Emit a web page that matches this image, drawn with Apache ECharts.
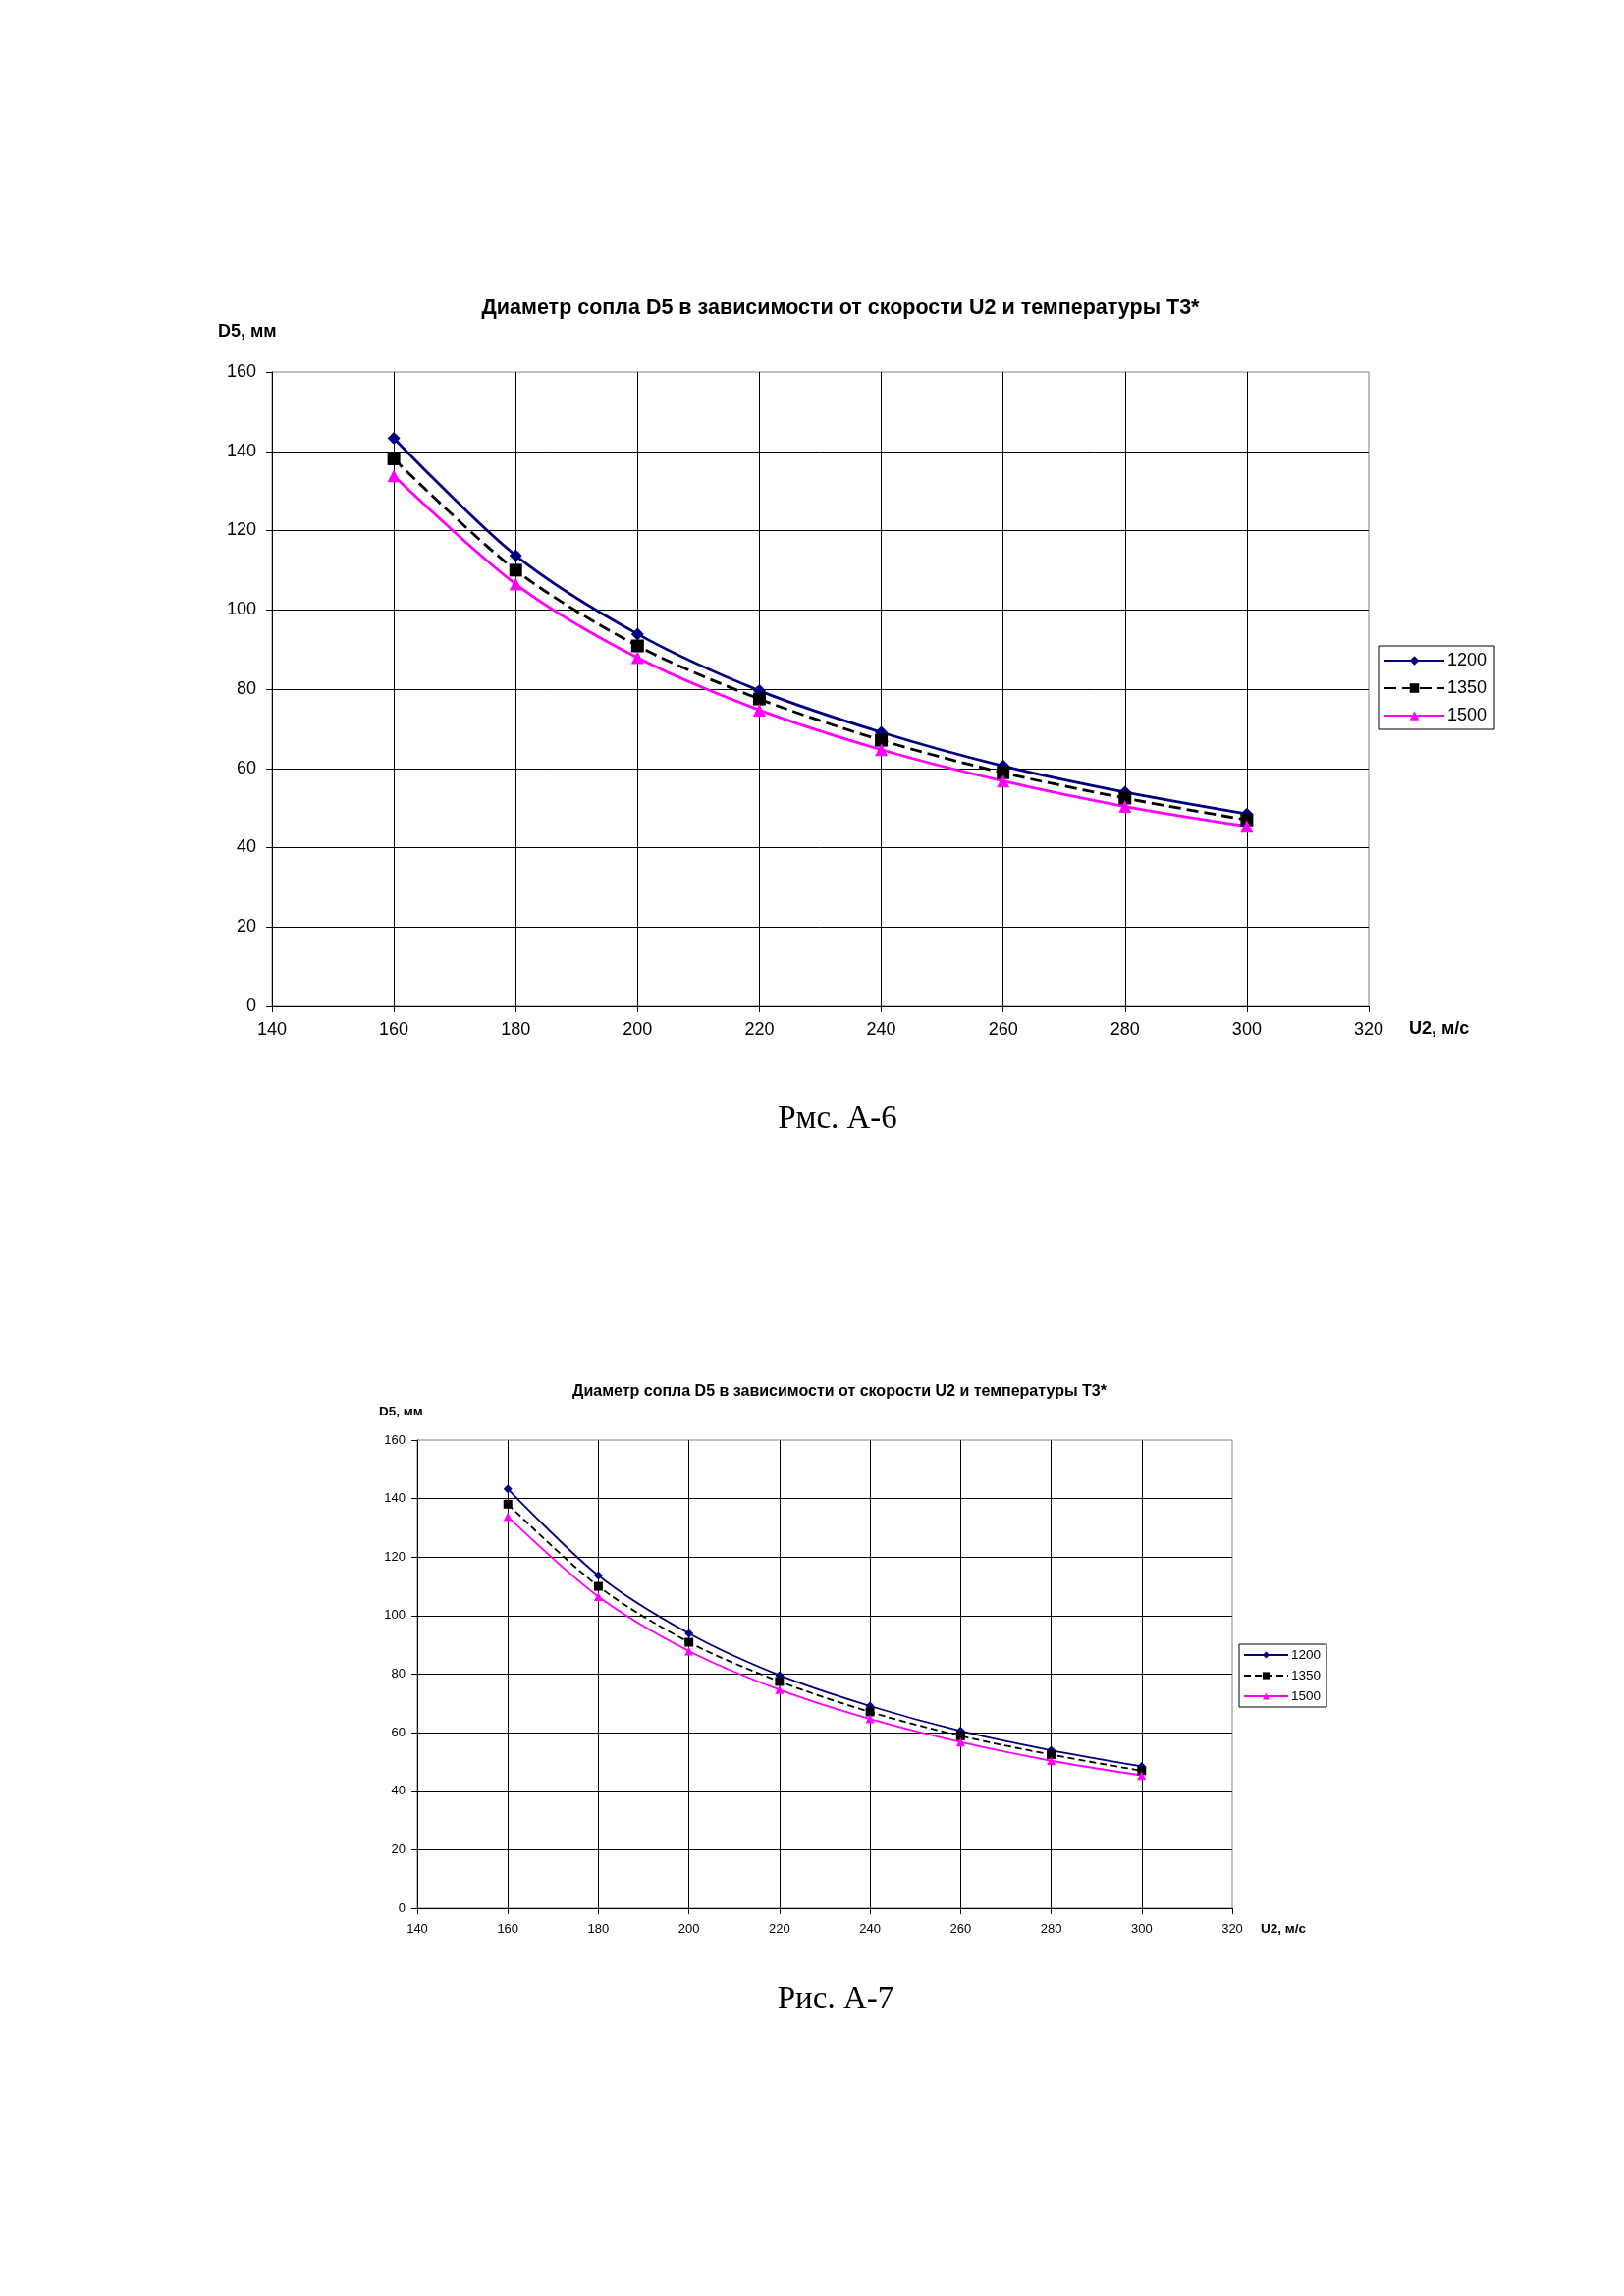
<!DOCTYPE html>
<html>
<head>
<meta charset="utf-8">
<script src="https://cdn.jsdelivr.net/npm/echarts@6/dist/echarts.min.js"></script>
<style>
  html, body { margin: 0; padding: 0; background: #fff; }
  #page { position: relative; width: 1654px; height: 2339px; }
  #chart-a6 { position: absolute; left: 0; top: 0; width: 1654px; height: 1200px; }
  #chart-a7 { position: absolute; left: 0; top: 1200px; width: 1654px; height: 1139px; }
</style>
</head>
<body>
<div id="page">
  <div id="chart-a6"></div>
  <div id="chart-a7"></div>
</div>
<script>
// U2, m/s
const speeds = [160, 180, 200, 220, 240, 260, 280, 300];
// D5, mm for T3* = 1200, 1350, 1500
const d5_1200 = [143.3, 113.7, 93.9, 79.6, 69.1, 60.6, 54.0, 48.5];
const d5_1350 = [138.1, 110.0, 90.9, 77.5, 67.1, 58.9, 52.5, 47.0];
const d5_1500 = [133.8, 106.5, 87.9, 74.7, 64.7, 56.8, 50.4, 45.4];
const seriesNames = ['1200', '1350', '1500'];

const titleText = 'Диаметр сопла D5 в зависимости от скорости U2 и температуры T3*';
const FONT = 'Arial, "Liberation Sans", sans-serif';

function pairs(ys) {
  return speeds.map((x, i) => [x, ys[i]]);
}

function buildOption(s) {
  const lines = [
    { name: seriesNames[0], data: d5_1200, color: '#000080', symbol: 'diamond', size: s.diamond, type: 'solid' },
    { name: seriesNames[1], data: d5_1350, color: '#000000', symbol: 'rect', size: s.square, type: s.dash },
    { name: seriesNames[2], data: d5_1500, color: '#ff00ff', symbol: 'triangle', size: s.triangle, type: 'solid' }
  ];
  return {
    animation: false,
    backgroundColor: '#fff',
    title: {
      text: titleText,
      left: s.titleX,
      top: s.titleY,
      textAlign: 'center',
      padding: 0,
      textStyle: { fontFamily: FONT, fontWeight: 'bold', fontSize: s.titleSize, color: '#000' }
    },
    legend: {
      orient: 'vertical',
      left: s.legLeft,
      top: s.legTop,
      padding: s.legPad,
      itemWidth: s.legItemW,
      itemHeight: s.legItemH,
      itemGap: s.legGap,
      borderColor: '#000',
      borderWidth: 1,
      backgroundColor: '#fff',
      textStyle: { fontFamily: FONT, fontSize: s.legFont, color: '#000', padding: [0, 0, 0, -2] },
      data: seriesNames
    },
    grid: {
      left: s.gridLeft, top: s.gridTop, width: s.gridW, height: s.gridH,
      show: true, borderColor: '#808080', borderWidth: 1, backgroundColor: '#fff'
    },
    xAxis: {
      type: 'value', min: 140, max: 320, interval: 20,
      axisLine: { onZero: false, lineStyle: { color: '#000', width: 1 } },
      axisTick: { show: true, length: 6, lineStyle: { color: '#000' } },
      axisLabel: { fontFamily: FONT, fontSize: s.labelSize, color: '#000', margin: s.xMargin },
      splitLine: { show: true, showMaxLine: false, lineStyle: { color: '#000', width: 1 } }
    },
    yAxis: {
      type: 'value', min: 0, max: 160, interval: 20,
      axisLine: { show: true, lineStyle: { color: '#000', width: 1 } },
      axisTick: { show: true, length: 6, lineStyle: { color: '#000' } },
      axisLabel: { fontFamily: FONT, fontSize: s.labelSize, color: '#000', margin: s.yMargin },
      splitLine: { show: true, showMaxLine: false, lineStyle: { color: '#000', width: 1 } }
    },
    graphic: [
      {
        type: 'text', left: s.yNameX, top: s.yNameY,
        style: { text: 'D5, мм', fontFamily: FONT, fontWeight: 'bold', fontSize: s.nameSize, fill: '#000' }
      },
      {
        type: 'text', left: s.xNameX, top: s.xNameY,
        style: { text: 'U2, м/с', fontFamily: FONT, fontWeight: 'bold', fontSize: s.nameSize, fill: '#000' }
      },
      {
        type: 'text', x: s.capX, y: s.capY,
        style: {
          text: s.caption, fontFamily: '"Times New Roman", "Liberation Serif", serif', fontSize: 33,
          fill: '#000', align: 'center', verticalAlign: 'middle'
        }
      }
    ],
    series: lines.map(l => ({
      name: l.name,
      type: 'line',
      data: pairs(l.data),
      smooth: 0.3,
      symbol: l.symbol,
      symbolSize: l.size,
      showAllSymbol: true,
      lineStyle: { color: l.color, width: s.lineW, type: l.type },
      itemStyle: { color: l.color, borderWidth: 0 },
      emphasis: { disabled: true }
    }))
  };
}

const chartA6 = echarts.init(document.getElementById('chart-a6'));
chartA6.setOption(buildOption({
  titleX: 856, titleY: 303, titleSize: 21.5,
  gridLeft: 277, gridTop: 379, gridW: 1117, gridH: 646,
  labelSize: 18, xMargin: 15, yMargin: 16,
  nameSize: 18, yNameX: 222, yNameY: 329, xNameX: 1435, xNameY: 1039,
  legLeft: 1404, legTop: 658, legPad: [6, 8, 5, 5], legItemW: 61, legItemH: 12, legGap: 10, legFont: 18,
  lineW: 2.8, dash: [12, 6], diamond: 13, square: 13, triangle: 13,
  caption: 'Рмс. А-6', capX: 853, capY: 1140
}));

const chartA7 = echarts.init(document.getElementById('chart-a7'));
chartA7.setOption(buildOption({
  titleX: 855, titleY: 210, titleSize: 16,
  gridLeft: 425, gridTop: 267, gridW: 830, gridH: 477,
  labelSize: 13, xMargin: 15, yMargin: 12,
  nameSize: 13.5, yNameX: 386, yNameY: 231, xNameX: 1284, xNameY: 758,
  legLeft: 1262, legTop: 475, legPad: [4, 6, 4, 4], legItemW: 45, legItemH: 9, legGap: 7, legFont: 13.5,
  lineW: 1.8, dash: [7, 4], diamond: 9, square: 9, triangle: 9,
  caption: 'Рис. А-7', capX: 851, capY: 837
}));
</script>
</body>
</html>
